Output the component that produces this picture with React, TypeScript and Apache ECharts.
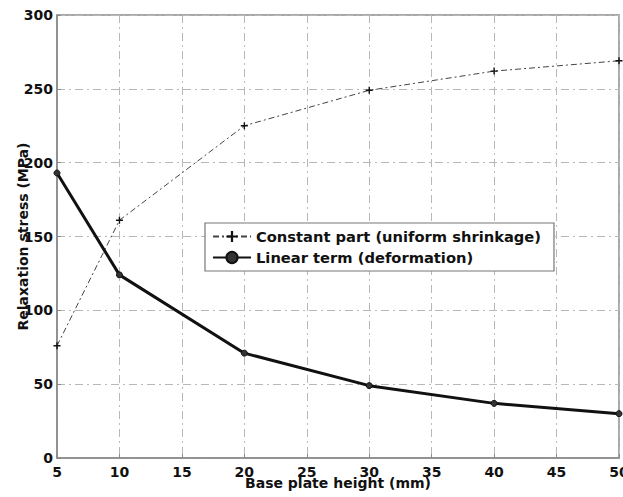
import React, { useEffect, useRef } from "react";
import * as echarts from "echarts";

const heights = [5, 10, 20, 30, 40, 50];
const constantPart = [76, 161, 225, 249, 262, 269];
const linearTerm = [193, 124, 71, 49, 37, 30];
const seriesNames = ["Constant part (uniform shrinkage)", "Linear term (deformation)"];

const FONT = "'DejaVu Sans', Arial, sans-serif";
const PLUS = "path://M4,0 L6,0 L6,4 L10,4 L10,6 L6,6 L6,10 L4,10 L4,6 L0,6 L0,4 L4,4 Z";

export default function App() {
  const ref = useRef<HTMLDivElement>(null);
  useEffect(() => {
    if (!ref.current) return;
    const chart = echarts.init(ref.current, undefined, { renderer: "svg" });
    const gridLine = { show: true, lineStyle: { color: "#b8b8b8", width: 1, type: [8, 4, 2, 4] } };
    const txt = { fontFamily: FONT, fontSize: 14, fontWeight: "bold", color: "#111" };
    chart.setOption({
      animation: false,
      backgroundColor: "#fff",
      textStyle: { fontFamily: FONT },
      grid: {
        left: 57, right: 4, top: 15, bottom: 39,
        containLabel: false, outerBoundsMode: "none",
        show: true, borderColor: "#8a8a8a", borderWidth: 1.5, backgroundColor: "transparent",
      },
      legend: {
        orient: "vertical",
        left: 205, top: 223,
        padding: [6, 13, 6, 7],
        itemGap: 6,
        itemWidth: 38, itemHeight: 14,
        borderColor: "#777", borderWidth: 1.2,
        backgroundColor: "#fff",
        textStyle: { ...txt, fontSize: 14.7 },
        data: seriesNames,
      },
      xAxis: {
        type: "value", min: 5, max: 50, interval: 5,
        name: "Base plate height (mm)", nameLocation: "middle", nameGap: 18,
        nameMoveOverlap: false,
        nameTextStyle: { ...txt },
        axisLine: { show: true, lineStyle: { color: "#8a8a8a", width: 1.5 } },
        axisTick: { show: true, inside: true, length: 4, lineStyle: { color: "#8a8a8a" } },
        axisLabel: { ...txt, margin: 7 },
        splitLine: gridLine,
      },
      yAxis: {
        type: "value", min: 0, max: 300, interval: 50,
        name: "Relaxation stress (MPa)", nameLocation: "middle", nameGap: 27,
        nameMoveOverlap: false,
        nameTextStyle: { ...txt },
        axisLine: { show: true, lineStyle: { color: "#8a8a8a", width: 1.5 } },
        axisTick: { show: true, inside: true, length: 4, lineStyle: { color: "#8a8a8a" } },
        axisLabel: { ...txt, margin: 4 },
        splitLine: gridLine,
      },
      series: [
        {
          name: seriesNames[0],
          type: "line",
          data: heights.map((h, i) => [h, constantPart[i]]),
          symbol: PLUS, symbolSize: 7,
          itemStyle: { color: "#111" },
          lineStyle: { color: "#444", width: 1, type: [6, 3, 2, 3] },
          z: 3,
        },
        {
          name: seriesNames[1],
          type: "line",
          data: heights.map((h, i) => [h, linearTerm[i]]),
          symbol: "circle", symbolSize: 6,
          itemStyle: { color: "#333", borderColor: "#111", borderWidth: 1 },
          lineStyle: { color: "#111", width: 3 },
          z: 4,
        },
      ],
    });
    return () => chart.dispose();
  }, []);
  return <div ref={ref} style={{ width: 623, height: 497, position: "absolute", left: 0, top: 0 }} />;
}
